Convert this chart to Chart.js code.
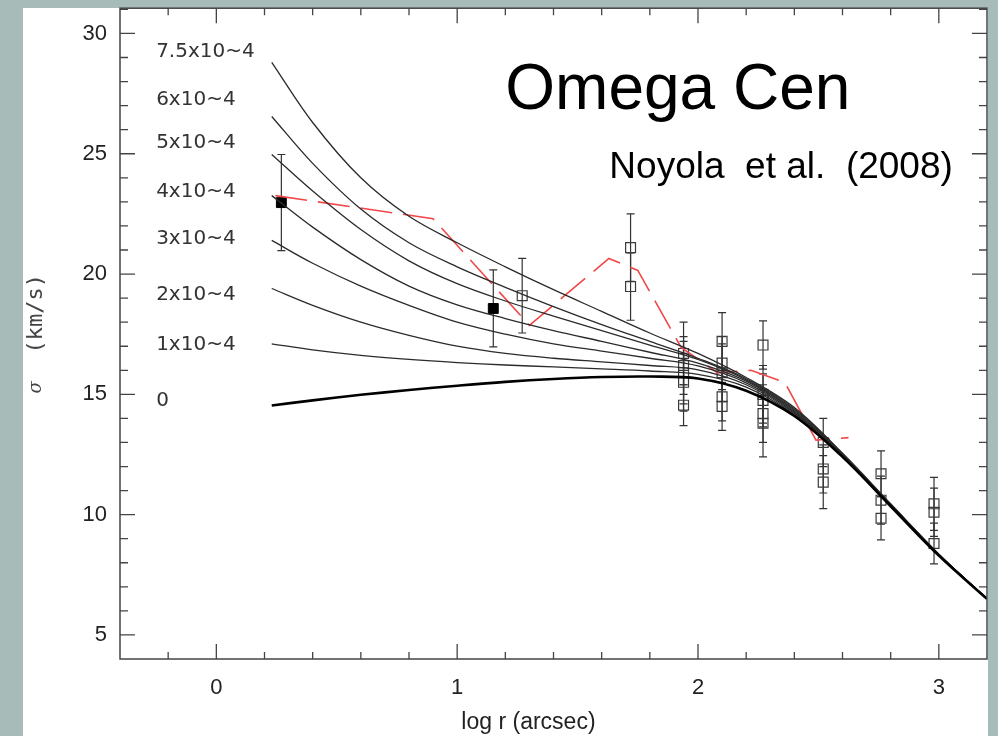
<!DOCTYPE html>
<html>
<head>
<meta charset="utf-8">
<script src="https://cdn.jsdelivr.net/npm/chart.js@4.4.1/dist/chart.umd.min.js"></script>
<style>
  html, body { margin: 0; padding: 0; }
  body { background: #a7bcb8; width: 998px; height: 736px; position: relative; overflow: hidden; }
  #panel { position: absolute; left: 23px; top: 8px; width: 965px; height: 728px; background: #fff; }
  #chart { position: absolute; left: 0; top: 0; }
</style>
</head>
<body>
<div id="panel"></div>
<canvas id="chart" width="998" height="736"></canvas>
<script>
// Model curves: log r vs sigma for each black hole mass fraction
const modelR = [0.23, 0.4, 0.6, 0.8, 1.0, 1.2, 1.4, 1.6, 1.8, 2.0, 2.2, 2.4, 2.6, 2.8, 3.0, 3.2];
const modelNames = ['0', '1x10~4', '2x10~4', '3x10~4', '4x10~4', '5x10~4', '6x10~4', '7.5x10~4'];
const sigmaBH0  = [14.54, 14.75, 14.98, 15.18, 15.36, 15.52, 15.64, 15.72, 15.74, 15.66, 15.15, 14.1, 12.4, 10.35, 8.3, 6.5];
const sigmaBH1  = [17.1, 16.85, 16.62, 16.45, 16.32, 16.22, 16.14, 16.06, 15.97, 15.83, 15.3, 14.15, 12.42, 10.37, 8.31, 6.5];
const sigmaBH2  = [19.4, 18.7, 18.0, 17.45, 17.0, 16.7, 16.5, 16.35, 16.2, 16.02, 15.4, 14.2, 12.45, 10.38, 8.32, 6.5];
const sigmaBH3  = [21.4, 20.45, 19.5, 18.7, 18.0, 17.5, 17.1, 16.8, 16.5, 16.18, 15.48, 14.25, 12.47, 10.4, 8.33, 6.5];
const sigmaBH4  = [23.26, 21.95, 20.6, 19.5, 18.72, 18.15, 17.65, 17.2, 16.75, 16.3, 15.55, 14.3, 12.5, 10.41, 8.34, 6.5];
const sigmaBH5  = [24.97, 23.45, 21.85, 20.55, 19.6, 18.88, 18.25, 17.65, 17.05, 16.45, 15.6, 14.35, 12.52, 10.42, 8.35, 6.5];
const sigmaBH6  = [26.55, 24.6, 22.7, 21.3, 20.3, 19.45, 18.65, 17.9, 17.2, 16.5, 15.65, 14.4, 12.53, 10.43, 8.35, 6.5];
const sigmaBH75 = [28.8, 26.3, 24.0, 22.4, 21.3, 20.3, 19.35, 18.45, 17.55, 16.7, 15.7, 14.45, 12.55, 10.45, 8.36, 6.5];
const modelSigmas = [sigmaBH0, sigmaBH1, sigmaBH2, sigmaBH3, sigmaBH4, sigmaBH5, sigmaBH6, sigmaBH75];
// where each model name sits (data coords)
const nameR = -0.25;
const nameSigma = [14.75, 17.08, 19.15, 21.48, 23.43, 25.47, 27.25, 29.24];

// Red dashed profile
const redR     = [0.245, 0.90, 1.30, 1.63, 1.75, 1.93, 2.08, 2.22, 2.36, 2.49, 2.625];
const redSigma = [23.26, 22.3, 17.87, 20.65, 20.15, 16.95, 15.9, 16.0, 15.5, 13.1, 13.2];

// Filled squares (with errors)
const filledR     = [0.27, 1.15];
const filledSigma = [22.97, 18.57];
const filledErr   = [2.0, 1.6];

// Open squares (with errors)
const openR = [1.27, 1.72, 1.72,
  1.94, 1.94, 1.94, 1.94, 1.94,
  2.10, 2.10, 2.10, 2.10, 2.10,
  2.27, 2.27, 2.27, 2.27, 2.27,
  2.52, 2.52, 2.52,
  2.76, 2.76, 2.76,
  2.98, 2.98, 2.98];
const openSigma = [19.1, 21.1, 19.48,
  16.7, 16.2, 15.9, 15.5, 14.55,
  17.2, 16.3, 15.9, 14.9, 14.5,
  17.05, 15.0, 14.75, 14.2, 13.8,
  13.0, 11.9, 11.35,
  11.7, 10.6, 9.85,
  10.45, 10.1, 8.8];
const openErr = [1.55, 1.4, 1.4,
  1.3, 1.2, 1.3, 1.2, 0.85,
  1.2, 1.1, 1.2, 1.0, 1.0,
  1.0, 1.2, 1.1, 1.2, 1.4,
  1.0, 1.0, 1.1,
  0.95, 1.0, 0.9,
  1.1, 1.0, 0.85];

const xTicks = [0, 1, 2, 3];
const yTicks = [5, 10, 15, 20, 25, 30];

const toPoints = (xs, ys) => xs.map((v, i) => ({x: v, y: ys[i]}));

Chart.defaults.font.family = "'Liberation Sans', Arial, sans-serif";

const datasets = [];
modelSigmas.forEach((s, i) => {
    datasets.push({
        label: modelNames[i],
        data: toPoints(modelR, s),
        showLine: true,
        borderColor: i === 0 ? '#000' : '#2b2b2b',
        borderWidth: i === 0 ? 2.6 : 1.3,
        pointRadius: 0,
        tension: 0.35,
    });
});
datasets.push({
    label: 'profile',
    data: toPoints(redR, redSigma),
    showLine: true,
    borderColor: 'rgb(240, 72, 72)',
    borderWidth: 1.6,
    borderDash: [32, 11],
    pointRadius: 0,
    tension: 0,
});
datasets.push({
    label: 'filled',
    data: toPoints(filledR, filledSigma),
    errors: filledErr,
    pointStyle: 'rect',
    pointRadius: 7,
    backgroundColor: '#000',
    borderColor: '#000',
    borderWidth: 1,
});
datasets.push({
    label: 'open',
    data: toPoints(openR, openSigma),
    errors: openErr,
    pointStyle: 'rect',
    pointRadius: 7,
    backgroundColor: 'rgba(0,0,0,0)',
    borderColor: '#3a3a3a',
    borderWidth: 1.2,
});

// error bars drawn under the squares
const errorBars = {
    id: 'errorBars',
    beforeDatasetsDraw(chart) {
        const {ctx, scales: {x, y}} = chart;
        ctx.save();
        ctx.strokeStyle = '#333';
        ctx.lineWidth = 1.2;
        chart.data.datasets.forEach(ds => {
            if (!ds.errors) return;
            ds.data.forEach((p, j) => {
                const px = x.getPixelForValue(p.x);
                const top = y.getPixelForValue(p.y + ds.errors[j]);
                const bot = y.getPixelForValue(p.y - ds.errors[j]);
                ctx.beginPath();
                ctx.moveTo(px, top); ctx.lineTo(px, bot);
                ctx.moveTo(px - 4, top); ctx.lineTo(px + 4, top);
                ctx.moveTo(px - 4, bot); ctx.lineTo(px + 4, bot);
                ctx.stroke();
            });
        });
        ctx.restore();
    }
};

// frame with inward ticks on all four sides
const frameTicks = {
    id: 'frameTicks',
    afterDraw(chart) {
        const {ctx, chartArea: a, scales: {x, y}} = chart;
        ctx.save();
        ctx.strokeStyle = '#444';
        ctx.lineWidth = 1.5;
        ctx.strokeRect(a.left, a.top, a.right - a.left, a.bottom - a.top);
        ctx.lineWidth = 1.3;
        ctx.beginPath();
        x.ticks.forEach(t => {
            const px = x.getPixelForValue(t.value);
            if (px <= a.left + 1 || px >= a.right - 1) return;
            const len = Math.abs(t.value - Math.round(t.value)) < 1e-6 ? 15 : 7;
            ctx.moveTo(px, a.bottom); ctx.lineTo(px, a.bottom - len);
            ctx.moveTo(px, a.top); ctx.lineTo(px, a.top + len);
        });
        y.ticks.forEach(t => {
            const py = y.getPixelForValue(t.value);
            if (py <= a.top + 1 || py >= a.bottom - 1) return;
            const len = Math.round(t.value) % 5 === 0 ? 15 : 8;
            ctx.moveTo(a.left, py); ctx.lineTo(a.left + len, py);
            ctx.moveTo(a.right, py); ctx.lineTo(a.right - len, py);
        });
        ctx.stroke();
        ctx.restore();
    }
};

// texts: curve names, title, reference, axis titles
const texts = {
    id: 'texts',
    afterDraw(chart) {
        const {ctx, chartArea: a, scales: {x, y}} = chart;
        ctx.save();
        ctx.fillStyle = '#333';
        ctx.textBaseline = 'middle';
        ctx.textAlign = 'left';
        ctx.font = "20px 'DejaVu Sans'";
        modelNames.forEach((n, i) => {
            ctx.fillText(n, x.getPixelForValue(nameR), y.getPixelForValue(nameSigma[i]));
        });

        ctx.fillStyle = '#000';
        ctx.textBaseline = 'alphabetic';
        ctx.font = "64px 'Liberation Sans'";
        ctx.fillText('Omega Cen', x.getPixelForValue(1.2), y.getPixelForValue(26.88));
        ctx.font = "37px 'Liberation Sans'";
        ctx.fillText('Noyola  et al.  (2008)', x.getPixelForValue(1.632), y.getPixelForValue(24.01));

        ctx.fillStyle = '#222';
        ctx.font = "23px 'Liberation Sans'";
        ctx.textAlign = 'center';
        ctx.textBaseline = 'middle';
        ctx.fillText('log r (arcsec)', x.getPixelForValue(1.296), a.bottom + 64);

        // y title, rotated
        ctx.translate(36, 0);
        ctx.rotate(-Math.PI / 2);
        ctx.fillStyle = '#444';
        ctx.font = "22px 'DejaVu Sans Mono'";
        ctx.fillText('(km/s)', -y.getPixelForValue(18.35), 0);
        ctx.font = "italic 18px 'DejaVu Serif'";
        ctx.fillText('σ', -y.getPixelForValue(15.29), 0);
        ctx.restore();
    }
};

const chart = new Chart(document.getElementById('chart').getContext('2d'), {
    type: 'scatter',
    data: { datasets: datasets },
    options: {
        responsive: false,
        animation: false,
        devicePixelRatio: 1,
        layout: { padding: { left: 0, right: 11, top: 8, bottom: 0 } },
        plugins: { legend: { display: false }, tooltip: { enabled: false } },
        scales: {
            x: {
                type: 'linear',
                min: -0.4,
                max: 3.2,
                grid: { display: false, drawTicks: false },
                border: { display: false },
                ticks: {
                    stepSize: 0.2,
                    includeBounds: false,
                    autoSkip: false,
                    maxRotation: 0,
                    padding: 16,
                    color: '#222',
                    font: { size: 22 },
                    callback: v => xTicks.find(t => Math.abs(t - v) < 1e-6) !== undefined ? Math.round(v) : '',
                },
                afterFit: s => { s.height = 77; s.paddingLeft = 0; s.paddingRight = 0; },
            },
            y: {
                type: 'linear',
                min: 4.0,
                max: 31.05,
                grid: { display: false, drawTicks: false },
                border: { display: false },
                ticks: {
                    stepSize: 1,
                    includeBounds: false,
                    autoSkip: false,
                    padding: 13,
                    color: '#222',
                    font: { size: 22 },
                    callback: v => yTicks.includes(Math.round(v)) && Math.abs(v - Math.round(v)) < 1e-6 ? Math.round(v) : '',
                },
                afterFit: s => { s.width = 120; s.paddingTop = 0; s.paddingBottom = 0; },
            }
        }
    },
    plugins: [errorBars, frameTicks, texts]
});
</script>
</body>
</html>
